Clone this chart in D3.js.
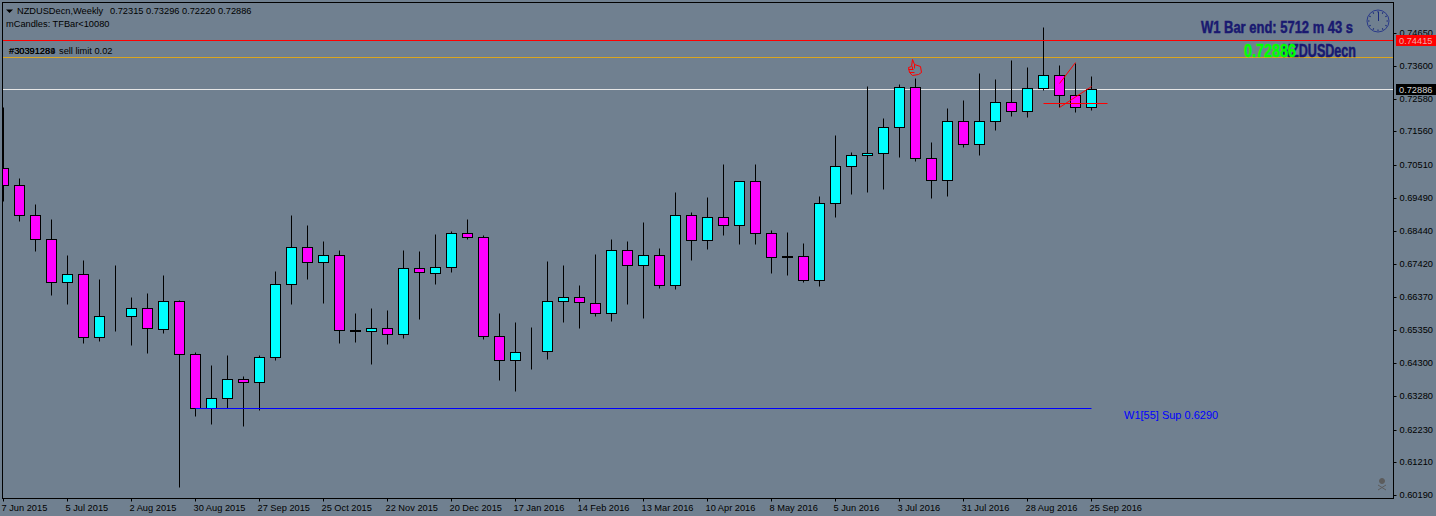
<!DOCTYPE html>
<html>
<head>
<meta charset="utf-8">
<script src="https://cdn.jsdelivr.net/npm/d3@7"></script>
<style>
  html, body { margin: 0; padding: 0; background: #708090; overflow: hidden; }
  text { font-family: "Liberation Sans", sans-serif; font-size: 9.25px; fill: #000; }
</style>
</head>
<body>
<div id="chart"></div>
<script>
// weekly candles
const opens = [.70425,.69892,.68954,.68202,.66857,.67107,.65135,.65792,.65792,.66043,.65385,.66262,.64603,.62913,.63226,.63820,.63727,.64509,.66794,.67952,.67483,.67702,.65354,.65323,.65417,.65229,.67295,.67138,.67326,.68390,.68265,.65166,.64415,.64697,.64697,.66262,.66387,.66199,.65886,.67858,.67389,.67702,.66763,.68954,.68171,.68891,.68641,.70018,.68390,.67670,.67670,.66919,.69329,.70487,.70832,.70894,.71708,.72960,.70738,.70049,.71896,.71176,.71896,.72491,.72209,.72929,.73336,.72710,.72315];
const highs = [.72334,.70112,.69298,.68828,.67702,.67545,.66950,.67389,.66387,.66512,.67076,.66293,.64665,.64259,.64572,.63914,.64572,.67201,.68954,.68641,.68140,.67858,.65886,.66043,.65980,.67858,.67827,.68359,.68453,.68828,.68328,.65886,.65604,.65448,.67514,.67389,.66763,.67733,.68202,.68140,.68734,.67921,.69673,.69047,.69517,.70550,.70018,.70550,.68484,.68422,.68077,.69548,.71458,.70925,.72991,.71990,.73054,.73242,.71238,.72303,.72553,.73398,.73210,.73805,.73586,.74838,.73649,.73711,.73296];
const lows = [.69392,.68766,.67827,.66450,.66168,.64947,.65010,.65323,.64885,.64634,.65260,.60440,.62662,.62412,.62913,.62349,.62850,.64415,.66168,.66950,.66199,.64947,.64979,.64290,.64916,.65104,.65698,.66794,.67169,.68202,.65072,.63789,.63445,.64133,.64446,.65604,.65417,.65792,.65636,.66168,.65730,.66669,.66637,.67545,.67889,.68328,.68046,.68046,.67138,.67076,.66857,.66731,.68891,.69611,.69673,.69767,.70769,.70644,.69486,.69548,.71082,.70832,.71614,.72052,.72021,.72866,.72334,.72177,.72220];
const closes = [.69892,.68954,.68202,.66857,.67107,.65135,.65792,.65792,.66043,.65417,.66262,.64603,.62913,.63226,.63820,.63727,.64509,.66794,.67952,.67483,.67702,.65354,.65323,.65417,.65229,.67295,.67169,.67326,.68390,.68265,.65166,.64415,.64665,.64697,.66262,.66387,.66231,.65886,.67858,.67389,.67702,.66763,.68954,.68171,.68891,.68641,.70018,.68390,.67639,.67639,.66919,.69329,.70487,.70832,.70894,.71708,.72960,.70738,.70049,.71896,.71176,.71896,.72491,.72209,.72929,.73336,.72710,.72334,.72886];

const dateLabels = ["7 Jun 2015","5 Jul 2015","2 Aug 2015","30 Aug 2015","27 Sep 2015","25 Oct 2015","22 Nov 2015","20 Dec 2015","17 Jan 2016","14 Feb 2016","13 Mar 2016","10 Apr 2016","8 May 2016","5 Jun 2016","3 Jul 2016","31 Jul 2016","28 Aug 2016","25 Sep 2016"];
const priceTicks = [.74650,.73600,.72580,.71560,.70510,.69490,.68440,.67420,.66370,.65350,.64300,.63280,.62230,.61210,.60190];

const askPrice = 0.74415, bidPrice = 0.72886, orderPrice = 0.73890, supportPrice = 0.6290;
// hand drawn trend lines as [bar, price] pairs
const trendA = [[65, .72459], [69, .72459]];
const trendB = [[66, .73085], [67, .73742]];
const trendC = [[66, .72334], [68, .72991]];

const width = 1436, height = 516,
    plotLeft = 2, plotRight = 1393, plotTop = 2, plotBottom = 498;

const svg = d3.select("#chart").append("svg")
    .attr("width", width)
    .attr("height", height)
    .style("display", "block");

svg.append("rect").attr("width", width).attr("height", height).attr("fill", "#708090");

const x = d3.scaleLinear().domain([0, 68]).range([3, 1091]);
const y = d3.scaleLinear().domain([0.6019, 0.7465]).range([494.73, 32.75]);

// everything snaps to whole pixels like the terminal does
const px = d => Math.round(x(d)) + 0.5;
const py = d => Math.round(y(d)) + 0.5;

svg.append("defs").append("clipPath").attr("id", "plot")
    .append("rect")
    .attr("x", plotLeft + 0.5)
    .attr("y", plotTop + 0.5)
    .attr("width", plotRight - plotLeft)
    .attr("height", plotBottom - plotTop);

const plot = svg.append("g").attr("clip-path", "url(#plot)");

// level lines sit behind the candles
function hline(price, color, from, to) {
    plot.append("line")
        .attr("x1", from).attr("x2", to)
        .attr("y1", py(price)).attr("y2", py(price))
        .attr("stroke", color);
}
hline(orderPrice, "#daa520", plotLeft, plotRight);
hline(bidPrice, "#e6e6e6", plotLeft, plotRight);

// candles
const bars = d3.range(opens.length).map(i => ({i, o: opens[i], h: highs[i], l: lows[i], c: closes[i]}));

const candle = plot.selectAll(".candle").data(bars).enter().append("g").attr("class", "candle");

candle.append("line")
    .attr("x1", d => px(d.i)).attr("x2", d => px(d.i))
    .attr("y1", d => py(d.h)).attr("y2", d => py(d.l))
    .attr("stroke", "#000");

candle.append("rect")
    .attr("x", d => px(d.i) - 5)
    .attr("width", 10)
    .attr("y", d => py(Math.max(d.o, d.c)))
    .attr("height", d => py(Math.min(d.o, d.c)) - py(Math.max(d.o, d.c)))
    .attr("fill", d => d.c > d.o ? "#00ffff" : "#ff00ff")
    .attr("stroke", "#000");

hline(askPrice, "#ff0000", plotLeft, plotRight);

plot.append("line")
    .attr("x1", px(12)).attr("x2", px(68))
    .attr("y1", py(supportPrice)).attr("y2", py(supportPrice))
    .attr("stroke", "#0000ff");

const trendLine = d3.line().x(d => px(d[0])).y(d => py(d[1]));
plot.selectAll(".trend").data([trendA, trendB, trendC]).enter().append("path")
    .attr("class", "trend")
    .attr("d", trendLine)
    .attr("fill", "none")
    .attr("stroke", "#ff0000");

// frame
svg.append("rect")
    .attr("x", plotLeft + 0.5).attr("y", plotTop + 0.5)
    .attr("width", plotRight - plotLeft).attr("height", plotBottom - plotTop)
    .attr("fill", "none").attr("stroke", "#000");

// price axis
const yAxis = svg.append("g")
    .attr("transform", `translate(${plotRight + 0.5},0)`)
    .call(d3.axisRight(y).tickValues(priceTicks).tickSize(3).tickPadding(3).tickFormat(d3.format(".5f")));
yAxis.select(".domain").remove();
yAxis.selectAll(".tick").attr("transform", d => `translate(0,${py(d)})`);
yAxis.selectAll("line").attr("stroke", "#000");
yAxis.selectAll("text").attr("dy", "2.8");
yAxis.attr("font-size", null).attr("font-family", null);

// time axis
const xAxis = svg.append("g")
    .attr("transform", `translate(0,${plotBottom + 0.5})`)
    .call(d3.axisBottom(x).tickValues(d3.range(0, 69, 4)).tickSize(3).tickPadding(3)
        .tickFormat((d, i) => dateLabels[i]));
xAxis.select(".domain").remove();
xAxis.selectAll(".tick").attr("transform", d => `translate(${px(d)},0)`);
xAxis.selectAll("line").attr("stroke", "#000");
xAxis.selectAll("text").attr("text-anchor", "start").attr("x", -2).attr("y", 6).attr("dy", "0.71em");
xAxis.attr("font-size", null).attr("font-family", null);

// current price tags
function tag(price, bg, fg) {
    const cy = py(price);
    svg.append("rect").attr("x", 1396).attr("y", cy - 5.5).attr("width", 40).attr("height", 11).attr("fill", bg);
    svg.append("text").attr("x", 1399).attr("y", cy + 3.5).style("fill", fg).text(d3.format(".5f")(price));
}
tag(askPrice, "#ff0000", "#f0a8a8");
tag(bidPrice, "#000000", "#d0d0d0");

// header text
svg.append("path").attr("d", "M6,9.5H13L9.5,13Z").attr("fill", "#000");
svg.append("text").attr("x", 17).attr("y", 14).text("NZDUSDecn,Weekly");
svg.append("text").attr("x", 110).attr("y", 14).text(`${d3.format(".5f")(opens[68])} ${d3.format(".5f")(highs[68])} ${d3.format(".5f")(lows[68])} ${d3.format(".5f")(closes[68])}`);
svg.append("text").attr("x", 6).attr("y", 27).text("mCandles: TFBar<10080");
// two order labels land on top of each other in the original
svg.append("text").attr("x", 9).attr("y", 54).text("#30391284");
svg.append("text").attr("x", 9).attr("y", 54).text("#30391289");
svg.append("text").attr("x", 59).attr("y", 54).text("sell limit 0.02");

svg.append("text").attr("x", 1124).attr("y", 418.5).style("fill", "#0000ff").style("font-size", "11px").text("W1[55] Sup 0.6290");

// big labels top right
function bigLabel(str, left, right, baseline, size, color) {
    svg.append("text")
        .attr("x", left).attr("y", baseline)
        .attr("textLength", right - left)
        .attr("lengthAdjust", "spacingAndGlyphs")
        .style("font-weight", "bold")
        .style("font-size", size + "px")
        .style("fill", color)
        .style("stroke", color)
        .style("stroke-width", 0.5)
        .text(str);
}
bigLabel("W1 Bar end: 5712 m 43 s", 1201, 1353, 33, 16.5, "#191970");
bigLabel("NZDUSDecn", 1282, 1356, 57, 17.5, "#191970");
bigLabel("0.72886", 1244, 1296, 57, 18, "#00ff00");

// clock
const clock = svg.append("g").attr("transform", "translate(1378,21)");
clock.append("circle").attr("r", 11).attr("fill", "none").attr("stroke", "#2a3a8a");
clock.append("line").attr("x1", 0.5).attr("x2", 0.5).attr("y1", 0).attr("y2", -9).attr("stroke", "#1a2a7a");
clock.selectAll(".hour").data(d3.range(12)).enter().append("line")
    .attr("class", "hour")
    .attr("y1", -10).attr("y2", -8.5)
    .attr("transform", d => `rotate(${d * 30})`)
    .attr("stroke", "#1a2a7a");

// thumbs up above the week 3 Jul 2016 bar
svg.append("path")
    .attr("d", "M912.5,59.5 L914.5,64.5 L920.5,66.5 L921.5,72.5 L918.5,74.5 L912.5,75.5 L909.5,72.5 L908.5,67.5 L911.5,66.5 Z M908.5,69.5 H913.5 M909.5,72.5 H914.5 M912.5,66.5 V69.5 M914.5,64.5 V68.5")
    .attr("fill", "none")
    .attr("stroke", "#ff0000");

// skull, terminal watermark
const skull = svg.append("g").attr("fill", "#5c5c5c").attr("stroke", "#5c5c5c");
skull.append("circle").attr("cx", 1382).attr("cy", 481).attr("r", 2.5);
skull.append("line").attr("x1", 1378).attr("y1", 485).attr("x2", 1386).attr("y2", 490);
skull.append("line").attr("x1", 1386).attr("y1", 485).attr("x2", 1378).attr("y2", 490);
</script>
</body>
</html>
